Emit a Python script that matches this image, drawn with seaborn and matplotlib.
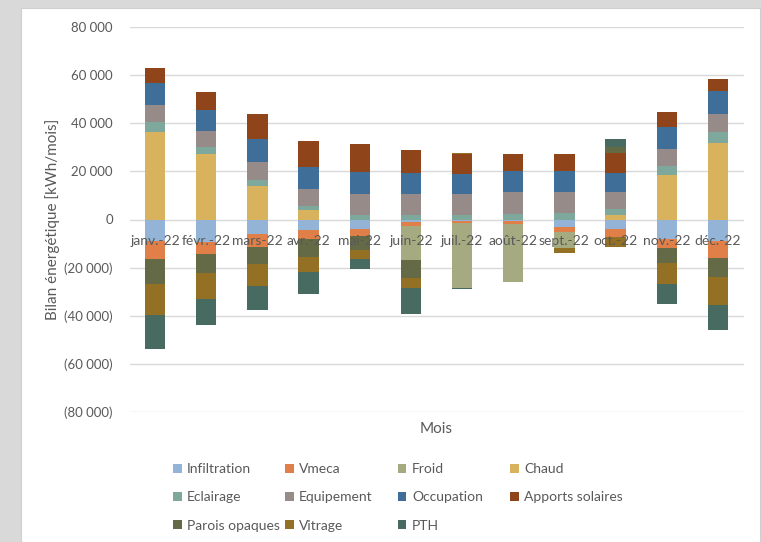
import numpy as np
import pandas as pd
import matplotlib
matplotlib.use('Agg')
import matplotlib.pyplot as plt
from matplotlib.patches import Rectangle, Patch
from matplotlib.ticker import FuncFormatter
import seaborn as sns

# monthly energy balance, kWh/mois
months = ['janv.-22', 'févr.-22', 'mars-22', 'avr.-22', 'mai-22', 'juin-22',
          'juil.-22', 'août-22', 'sept.-22', 'oct.-22', 'nov.-22', 'déc.-22']

infiltration = [-9000, -9200, -6200, -4400, -3900, -1200, -800, -800, -3100, -4000, -8000, -9000]
vmeca = [-7600, -5000, -5400, -3600, -2800, -1600, -800, -1100, -2300, -3200, -3700, -6900]
froid = [0, 0, 0, 0, 0, -14200, -26800, -24000, -6600, 0, 0, 0]
chaud = [36500, 27200, 13800, 4100, 0, 0, 0, 0, 0, 1700, 18300, 31900]
eclairage = [3900, 2900, 2600, 1700, 1900, 1900, 2000, 2400, 2600, 2700, 3800, 4500]
equipement = [7200, 6700, 7300, 6900, 8700, 8900, 8600, 9100, 8700, 6900, 7100, 7300]
occupation = [9200, 8700, 9900, 9000, 9300, 8400, 8400, 8800, 9000, 8000, 9400, 9500]
apports_solaires = [6000, 7300, 10100, 11100, 11300, 9800, 8400, 7100, 7100, 8300, 6100, 5300]
parois_opaques = [-10300, -7900, -7000, -7400, -5800, -7500, 0, 0, 0, 2500, -6200, -7900]
vitrage = [-12800, -10800, -9100, -6300, -4100, -3900, 400, 0, -1900, -4100, -8800, -11600]
pth = [-14300, -11000, -10100, -9300, -3900, -10900, -400, 0, 0, 3400, -8500, -10600]

series_names = ['Infiltration', 'Vmeca', 'Froid', 'Chaud', 'Eclairage', 'Equipement',
                'Occupation', 'Apports solaires', 'Parois opaques', 'Vitrage', 'PTH']
series_values = [infiltration, vmeca, froid, chaud, eclairage, equipement,
                 occupation, apports_solaires, parois_opaques, vitrage, pth]
colors = ['#93b4d6', '#e07f47', '#a5aa80', '#d9b25e', '#7ea89b', '#968b88',
          '#3f6e99', '#8f4519', '#646a46', '#937023', '#476a61']

sns.set_theme(style='white')
plt.rcParams['font.family'] = ['Lato', 'DejaVu Sans']
grey_txt = '#595959'

fig = plt.figure(figsize=(7.61, 5.42), dpi=100)
fig.patch.set_facecolor('#d9d9d9')
panel = Rectangle((21 / 761, 0), 739 / 761, 534 / 542, transform=fig.transFigure,
                  facecolor='white', edgecolor='#cfcfcf', linewidth=0.8, zorder=-5)
fig.add_artist(panel)

ax = fig.add_axes([129.5 / 761, 1 - 412 / 542, 614 / 761, 385 / 542])
ax.set_zorder(2)
ax.set_facecolor('none')

pos_cum = np.zeros(len(months))
neg_cum = np.zeros(len(months))
for name, vals, col in zip(series_names, series_values, colors):
    v = np.array(vals, dtype=float)
    bottom = np.where(v >= 0, pos_cum, neg_cum)
    sns.barplot(x=months, y=v, color=col, width=0.4, errorbar=None, ax=ax,
                bottom=bottom, linewidth=0, saturation=1, zorder=3)
    pos_cum += np.where(v > 0, v, 0)
    neg_cum += np.where(v < 0, v, 0)

ax.set_ylim(-80000, 80000)
ax.set_xlim(-0.5, len(months) - 0.5)
ax.set_yticks(np.arange(-80000, 80001, 20000))


def fmt(val, pos):
    s = '{:,.0f}'.format(abs(val)).replace(',', ' ')
    return '({})'.format(s) if val < 0 else s


ax.yaxis.set_major_formatter(FuncFormatter(fmt))
ax.grid(axis='y', color='#d9d9d9', linewidth=1, zorder=0)
ax.set_axisbelow(True)
for sp in ax.spines.values():
    sp.set_visible(False)
ax.tick_params(axis='y', length=0, pad=12, labelsize=9.5, labelcolor=grey_txt)
ax.set_xticks(range(len(months)))
ax.set_xticklabels([])
ax.tick_params(axis='x', length=0)

# month labels sit next to the zero line
for i, m in enumerate(months):
    ax.annotate(m, (i, 0), xytext=(0, -11), textcoords='offset points', ha='center', va='top',
                fontsize=10, color=grey_txt, zorder=5)

ax.set_xlabel('Mois', fontsize=11, color=grey_txt, labelpad=4)
ax.set_ylabel('Bilan énergétique [kWh/mois]', fontsize=11, color=grey_txt, labelpad=3)

# legend: one column block per x position, like the Excel layout
handles = [Patch(facecolor=c, edgecolor='none', label=n) for n, c in zip(series_names, colors)]
col_x = [169, 281, 394, 506]
for c in range(4):
    idx = [i for i in range(c, len(series_names), 4)]
    fig.legend([handles[i] for i in idx], [series_names[i] for i in idx],
               ncol=1, loc='upper left', bbox_to_anchor=(col_x[c] / 761, 1 - 459 / 542),
               frameon=False, fontsize=10, labelcolor=grey_txt, handlelength=0.6,
               handleheight=0.6, handletextpad=0.4, labelspacing=1.17,
               borderpad=0.3, borderaxespad=0)

fig.savefig('out.png', dpi=100, facecolor=fig.get_facecolor())
